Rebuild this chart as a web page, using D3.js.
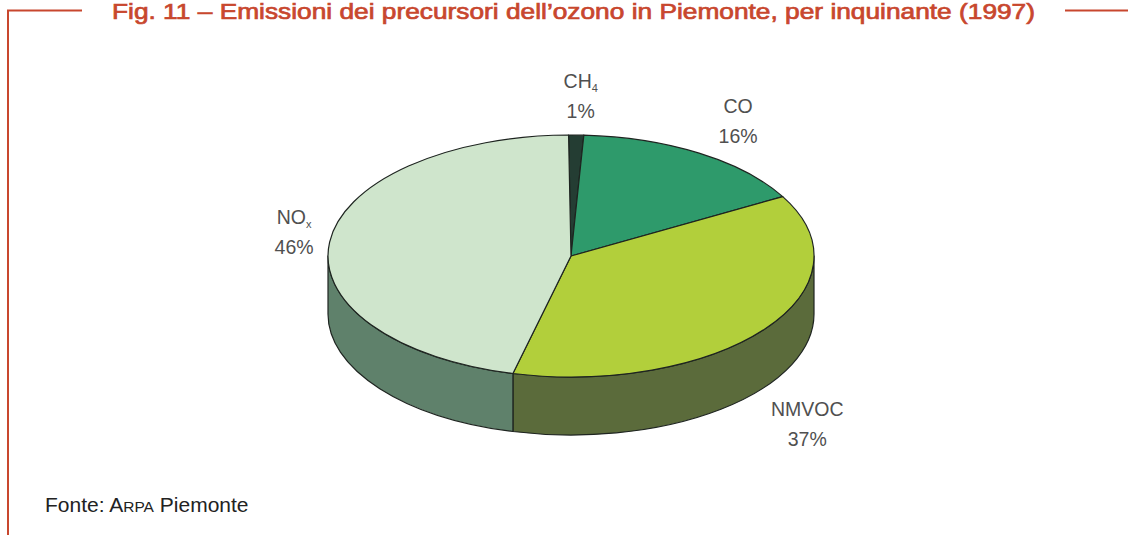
<!DOCTYPE html>
<html>
<head>
<meta charset="utf-8">
<script src="https://cdn.jsdelivr.net/npm/d3@7.9.0/dist/d3.min.js"></script>
<style>
  html, body { margin: 0; padding: 0; background: #fff; }
  svg { display: block; }
</style>
</head>
<body>
<svg id="chart" width="1128" height="535"></svg>
<script>
// data
const categories = ["CH", "CO", "NMVOC", "NO"];
const subscripts = ["4", "", "", "x"];
const values = [1, 16, 37, 46];

const topColors = ["#243d33", "#2e9a6b", "#b2cf3b", "#cfe5cc"];
const sideColors = ["#1c2f27", "#23704f", "#5b6b3b", "#5f816b"];

const width = 1128, height = 535;
const cx = 571, cy = 256;   // centre of top face
const rx = 243, ry = 121;   // ellipse radii
const depth = 58;           // thickness of the pie
const red = "#c8472e";

const svg = d3.select("#chart");

// frame lines and title
svg.append("path")
  .attr("d", "M82,10.5H8V535")
  .attr("fill", "none").attr("stroke", red).attr("stroke-width", 2);
svg.append("path")
  .attr("d", "M1065,10.5H1128")
  .attr("fill", "none").attr("stroke", red).attr("stroke-width", 2);

svg.append("text")
  .attr("x", 112).attr("y", 19)
  .attr("textLength", 923).attr("lengthAdjust", "spacingAndGlyphs")
  .style("font-family", "'Liberation Sans', Arial, sans-serif")
  .style("font-size", "21.5px")
  .attr("fill", red)
  .attr("stroke", red).attr("stroke-width", 0.7)
  .text("Fig. 11 – Emissioni dei precursori dell’ozono in Piemonte, per inquinante (1997)");

// pie angles
const pie = d3.pie().sort(null).value(d => d).startAngle(-0.01).endAngle(2 * Math.PI - 0.01);
const arcs = pie(values);

const px = a => cx + rx * Math.sin(a);
const py = (a, dy = 0) => cy - ry * Math.cos(a) + dy;

function topPath(d) {
  const p = d3.path();
  p.moveTo(cx, cy);
  p.lineTo(px(d.startAngle), py(d.startAngle));
  const large = d.endAngle - d.startAngle > Math.PI ? 1 : 0;
  return p.toString() + `A${rx},${ry} 0 ${large} 1 ${px(d.endAngle)},${py(d.endAngle)}Z`;
}

function sidePath(a0, a1) {
  const large = a1 - a0 > Math.PI ? 1 : 0;
  return `M${px(a0)},${py(a0)}` +
    `A${rx},${ry} 0 ${large} 1 ${px(a1)},${py(a1)}` +
    `L${px(a1)},${py(a1, depth)}` +
    `A${rx},${ry} 0 ${large} 0 ${px(a0)},${py(a0, depth)}Z`;
}

// visible wall: front half between 90° and 270°
const sides = arcs.map((d, i) => {
  const a0 = Math.max(d.startAngle, Math.PI / 2);
  const a1 = Math.min(d.endAngle, 3 * Math.PI / 2);
  return { i, a0, a1 };
}).filter(s => s.a1 > s.a0);

const g = svg.append("g");

g.selectAll("path.side")
  .data(sides)
  .join("path")
  .attr("class", "side")
  .attr("d", s => sidePath(s.a0, s.a1))
  .attr("fill", s => sideColors[s.i])
  .attr("stroke", "#1e2420").attr("stroke-width", 1.2)
  .attr("stroke-linejoin", "round");

g.selectAll("path.top")
  .data(arcs)
  .join("path")
  .attr("class", "top")
  .attr("d", topPath)
  .attr("fill", (d, i) => topColors[i])
  .attr("stroke", "#1e2420").attr("stroke-width", 1.2)
  .attr("stroke-linejoin", "round");

// labels around the pie
const labelNudge = [[3, -10], [2, -8], [-13, 16], [34, -8]];
const lg = svg.append("g")
  .style("font-family", "'Liberation Sans', Arial, sans-serif")
  .style("font-size", "19.5px")
  .attr("fill", "#505050")
  .attr("text-anchor", "middle");

arcs.forEach((d, i) => {
  const mid = (d.startAngle + d.endAngle) / 2;
  const front = Math.cos(mid) < 0 ? depth : 0;
  const x = cx + (rx + 70) * Math.sin(mid) + labelNudge[i][0];
  const y = cy - (ry + 31) * Math.cos(mid) + front + labelNudge[i][1];
  const t = lg.append("text").attr("x", x).attr("y", y - 6);
  t.append("tspan").text(categories[i]);
  if (subscripts[i]) {
    t.append("tspan").attr("dy", 4).style("font-size", "11px").text(subscripts[i]);
  }
  lg.append("text").attr("x", x).attr("y", y + 24).text(values[i] + "%");
});

// source line
const src = svg.append("text")
  .attr("x", 45).attr("y", 512)
  .style("font-family", "'Liberation Sans', Arial, sans-serif")
  .style("font-size", "21px")
  .attr("fill", "#222");
src.append("tspan").text("Fonte: A");
src.append("tspan").style("font-size", "15.5px").text("RPA");
src.append("tspan").text(" Piemonte");
</script>
</body>
</html>
